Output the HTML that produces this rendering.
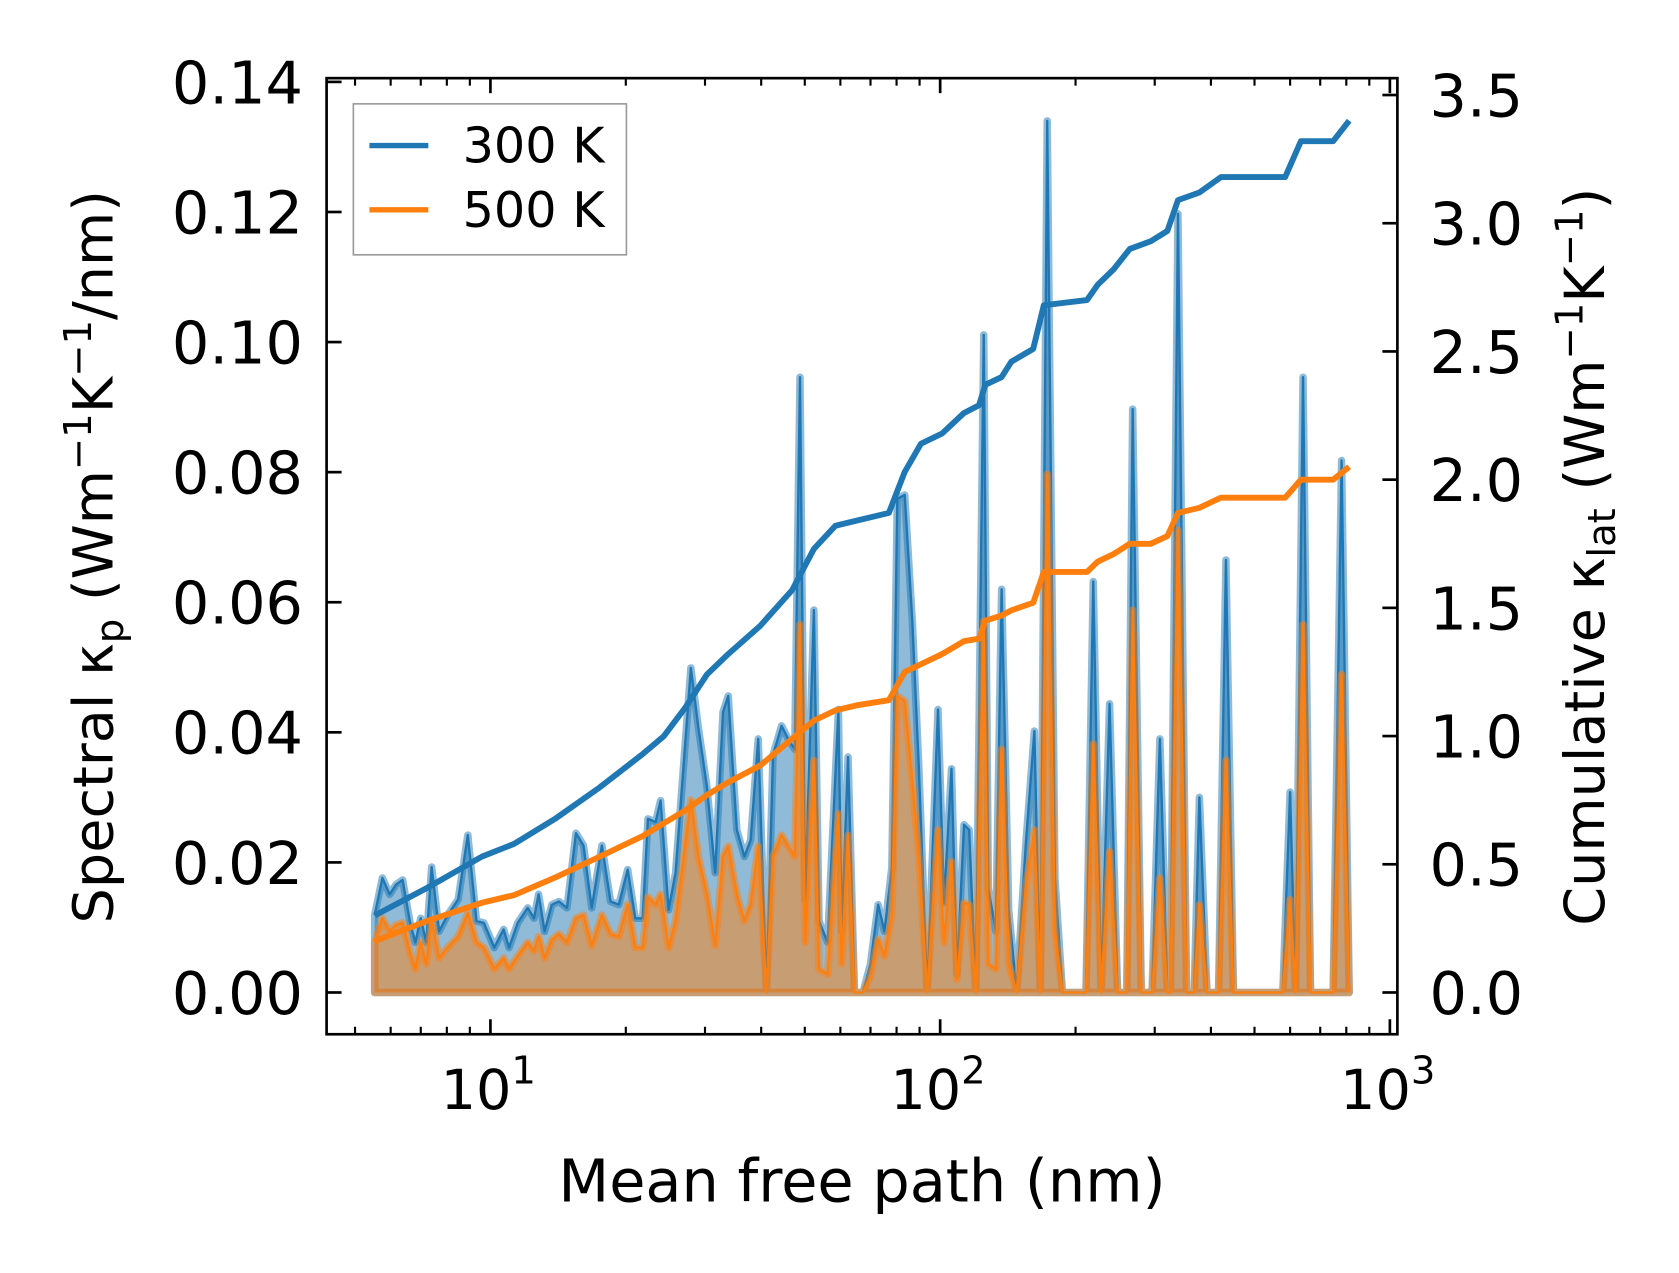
<!DOCTYPE html>
<html><head><meta charset="utf-8"><style>
html,body{margin:0;padding:0;background:#fff;}
svg{display:block;}
text{font-family:"DejaVu Sans","Liberation Sans",sans-serif;fill:#000;}
</style></head><body>
<svg id="chart" xmlns="http://www.w3.org/2000/svg" width="1679" height="1273" viewBox="0 0 1568 1189" preserveAspectRatio="none">
<defs><clipPath id="plotclip"><rect x="305" y="73" width="1000" height="893"/></clipPath></defs>
<g id="marks" clip-path="url(#plotclip)"></g>
<g id="axes"></g>
<rect x="305" y="73" width="1000" height="893" fill="none" stroke="#000" stroke-width="2.5"/>
<text x="805" y="1122" font-size="55" text-anchor="middle">Mean free path (nm)</text>
<text transform="translate(105,520) rotate(-90)" font-size="52" text-anchor="middle">Spectral κ<tspan font-size="36" dy="10">p</tspan><tspan dy="-10"> (Wm</tspan><tspan font-size="36" dy="-20">−1</tspan><tspan dy="20">K</tspan><tspan font-size="36" dy="-20">−1</tspan><tspan dy="20">/nm)</tspan></text>
<text transform="translate(1498,520) rotate(-90)" font-size="52" text-anchor="middle">Cumulative κ<tspan font-size="36" dy="10">lat</tspan><tspan dy="-10"> (Wm</tspan><tspan font-size="36" dy="-20">−1</tspan><tspan dy="20">K</tspan><tspan font-size="36" dy="-20">−1</tspan><tspan dy="20">)</tspan></text>
<g>
<rect x="330" y="97" width="255" height="141" fill="#fff" fill-opacity="0.8" stroke="#999" stroke-width="1.5"/>
<line x1="345" y1="136" x2="400" y2="136" stroke="#1f77b4" stroke-width="5"/>
<text x="432" y="152" font-size="46">300 K</text>
<line x1="345" y1="196" x2="400" y2="196" stroke="#ff7f0e" stroke-width="5"/>
<text x="432" y="212" font-size="46">500 K</text>
</g>
</svg>
<script>
const specMfp=[5.53,5.75,5.97,6.17,6.38,6.63,6.81,7.00,7.20,7.40,7.69,8.03,8.48,8.91,9.31,9.67,10.2,10.7,11.0,11.5,12.1,12.5,12.8,13.2,13.7,14.2,14.8,15.5,16.1,16.8,17.7,18.5,19.3,20.2,21.0,21.8,22.4,23.3,23.9,24.9,25.8,27.9,29.0,30.3,31.6,32.9,33.8,35.3,36.7,37.9,39.4,41.1,42.5,44.4,45.9,47.5,48.8,50.1,52.4,53.8,56.2,59.4,60.4,62.4,64.5,67.4,70.0,72.8,75.2,78.1,80.3,83.4,86.7,89.6,93.6,98.9,102,106,109,113,116,120,125,128,133,137,142,148,155,162,167,173,180,187,211,219,228,238,248,260,268,280,296,308,320,325,338,353,367,377,392,416,432,449,578,600,617,641,666,748,781,812];
const spec300=[0.0119,0.0176,0.0151,0.0166,0.0173,0.0107,0.0077,0.0114,0.0077,0.0193,0.0094,0.0119,0.0143,0.0242,0.0110,0.0107,0.0069,0.0097,0.0069,0.0107,0.0130,0.0114,0.0151,0.0094,0.0135,0.0140,0.0130,0.0245,0.0226,0.0130,0.0226,0.0140,0.0135,0.0189,0.0114,0.0114,0.0267,0.0262,0.0295,0.0127,0.0184,0.0499,0.0407,0.0316,0.0184,0.0431,0.0456,0.0250,0.0209,0.0234,0.0390,0,0.0365,0.0410,0.0390,0.0374,0.0946,0.0143,0.0588,0.0110,0.0077,0.0435,0.0094,0.0362,0,0,0.0044,0.0135,0.0094,0.0193,0.0759,0.0765,0.0571,0.0350,0,0.0435,0.0138,0.0344,0.0028,0.0258,0.0250,0,0.1011,0.0160,0.0094,0.0620,0.0127,0,0.0226,0.0402,0,0.1340,0.0176,0,0,0.0632,0,0.0444,0,0,0.0897,0,0,0.0390,0,0,0.1197,0,0,0.0300,0,0,0.0665,0,0,0.0308,0,0.0946,0,0,0.0818,0];
const spec500=[0.0077,0.0114,0.0094,0.0104,0.0107,0.0061,0.0036,0.0077,0.0044,0.0110,0.0053,0.0069,0.0086,0.0122,0.0077,0.0069,0.0036,0.0053,0.0036,0.0056,0.0077,0.0064,0.0086,0.0053,0.0081,0.0090,0.0077,0.0114,0.0119,0.0072,0.0119,0.0090,0.0086,0.0135,0.0069,0.0069,0.0147,0.0135,0.0151,0.0069,0.0110,0.0296,0.0209,0.0151,0.0072,0.0209,0.0225,0.0151,0.0110,0.0135,0.0225,0,0.0209,0.0242,0.0225,0.0209,0.0566,0.0077,0.0357,0.0036,0.0028,0.0275,0.0044,0.0242,0,0,0.0025,0.0082,0.0056,0.0119,0.0456,0.0448,0.0324,0.0210,0,0.0250,0.0077,0.0201,0.0020,0.0138,0.0135,0,0.0571,0.0044,0.0036,0.0374,0.0044,0,0.0160,0.0250,0,0.0797,0.0094,0,0,0.0382,0,0.0217,0,0,0.0588,0,0,0.0176,0,0,0.0711,0,0,0.0135,0,0,0.0357,0,0,0.0143,0,0.0566,0,0,0.0489,0];
const cumMfp=[5.53,7.27,9.57,11.3,14.0,17.5,21.8,24.3,27.1,30.3,33.8,39.8,46.9,52.4,58.5,65.2,76.9,83.4,90.6,101,113,122,126,137,144,161,170,212,224,243,264,294,320,338,377,421,585,634,748,812];
const cum300=[0.30,0.41,0.53,0.58,0.68,0.80,0.93,1.00,1.11,1.24,1.32,1.43,1.57,1.73,1.82,1.84,1.87,2.03,2.14,2.18,2.26,2.29,2.37,2.40,2.46,2.51,2.68,2.70,2.76,2.82,2.90,2.93,2.97,3.09,3.12,3.18,3.18,3.32,3.32,3.40];
const cum500=[0.20,0.28,0.35,0.38,0.45,0.53,0.61,0.66,0.71,0.77,0.82,0.885,0.99,1.06,1.10,1.12,1.14,1.25,1.28,1.32,1.37,1.38,1.45,1.47,1.49,1.52,1.64,1.64,1.68,1.71,1.75,1.75,1.78,1.87,1.89,1.93,1.93,2.00,2.00,2.05];
const leftTicks=[0,0.02,0.04,0.06,0.08,0.10,0.12,0.14];
const leftTickLabels=["0.00","0.02","0.04","0.06","0.08","0.10","0.12","0.14"];
const rightTicks=[0,0.5,1,1.5,2,2.5,3,3.5];
const rightTickLabels=["0.0","0.5","1.0","1.5","2.0","2.5","3.0","3.5"];
const xMajor=[10,100,1000];
const xMajorExp=["1","2","3"];

const NS="http://www.w3.org/2000/svg";
const L=305,R=1305,T=73,B=966;
function xs(m){return 458+420*(Math.log10(m)-1);}
function yl(v){return 927-v*6075;}
function yr(v){return 927-v*239.5;}
const marks=document.getElementById('marks');
const axes=document.getElementById('axes');
function mk(tag,attrs,parent){const e=document.createElementNS(NS,tag);for(const k in attrs)e.setAttribute(k,attrs[k]);parent.appendChild(e);return e;}

function drawSpec(vals,color,name){
  let pts=specMfp.map((m,i)=>xs(m).toFixed(1)+','+yl(vals[i]).toFixed(1));
  const x0=xs(specMfp[0]).toFixed(1),x1=xs(specMfp[specMfp.length-1]).toFixed(1);
  const poly=mk('polygon',{points:x0+','+yl(0)+' '+pts.join(' ')+' '+x1+','+yl(0),fill:color,'fill-opacity':0.5,stroke:color,'stroke-opacity':0.5,'stroke-width':7,'stroke-linejoin':'round'},marks);
  
  
  const line=mk('polyline',{points:pts.join(' '),fill:'none',stroke:color,'stroke-width':2.2,'stroke-linejoin':'round'},marks);
  
  
}
drawSpec(spec300,'#1f77b4','spectral-300k');
drawSpec(spec500,'#ff7f0e','spectral-500k');
function drawCum(vals,color,name){
  const pts=cumMfp.map((m,i)=>xs(m).toFixed(1)+','+yr(vals[i]).toFixed(1));
  const line=mk('polyline',{points:pts.join(' '),fill:'none',stroke:color,'stroke-width':5.5,'stroke-linejoin':'round'},marks);
  
  
}
drawCum(cum300,'#1f77b4','cumulative-300k');
drawCum(cum500,'#ff7f0e','cumulative-500k');

leftTicks.forEach((v,i)=>{
  const y=yl(v);
  const t=mk('line',{x1:L,x2:L+14,y1:y,y2:y,stroke:'#000','stroke-width':2.5},axes);
  
  
  const tx=mk('text',{x:L-22,y:y+20,'font-size':55,'text-anchor':'end'},axes);
  tx.textContent=leftTickLabels[i];
  
  
});
rightTicks.forEach((v,i)=>{
  const y=yr(v);
  const t=mk('line',{x1:R-14,x2:R,y1:y,y2:y,stroke:'#000','stroke-width':2.5},axes);
  
  
  const tx=mk('text',{x:R+30,y:y+20,'font-size':55,'text-anchor':'start'},axes);
  tx.textContent=rightTickLabels[i];
  
  
});
xMajor.forEach((m,i)=>{
  const x=xs(m);
  [[B-14,B],[T,T+14]].forEach(p=>{
    const t=mk('line',{x1:x,x2:x,y1:p[0],y2:p[1],stroke:'#000','stroke-width':2.5},axes);
    
    
  });
  const tx=mk('text',{x:x-2,y:1036,'font-size':52,'text-anchor':'middle'},axes);
  
  
  tx.textContent='10';
  const sup=mk('tspan',{'font-size':36,dy:-24},tx);
  sup.textContent=xMajorExp[i];
});
[1,10,100].forEach(d=>{
  for(let k=2;k<=9;k++){
    const x=xs(d*k);
    if(x<L+2||x>R-2)continue;
    [[B-7,B],[T,T+7]].forEach(p=>{
      const t=mk('line',{x1:x,x2:x,y1:p[0],y2:p[1],stroke:'#000','stroke-width':2},axes);
      
      
    });
  }
});
</script>
</body></html>
